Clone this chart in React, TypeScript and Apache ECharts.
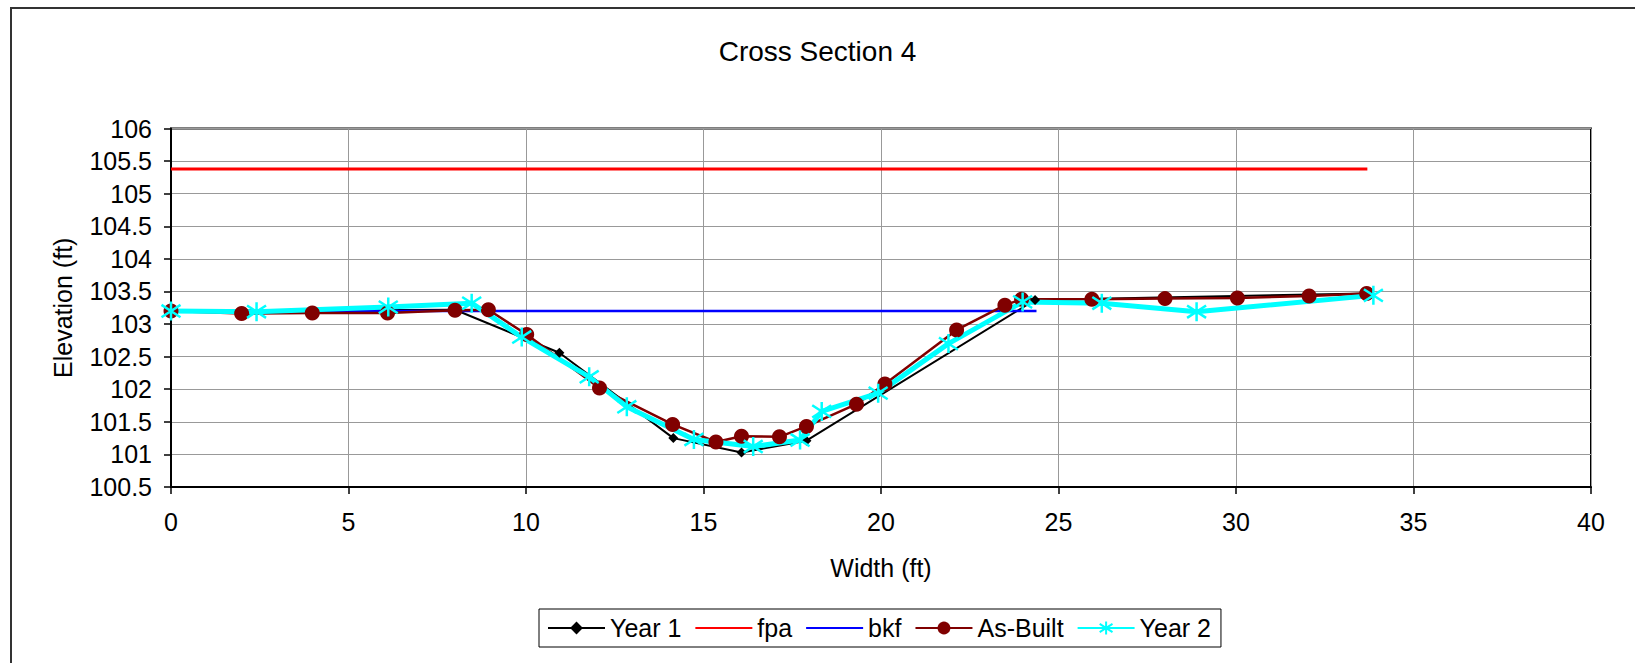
import React, { useEffect, useRef } from "react";
import * as echarts from "echarts";

// ---- Data ----
const xTickMin = 0;
const xTickMax = 40;
const xTickStep = 5;
const yTickMin = 100.5;
const yTickMax = 106;
const yTickStep = 0.5;

const seriesNames = ["Year 1", "fpa", "bkf", "As-Built", "Year 2"];
const lineOnlyNames = ["fpa", "bkf"];

const year1X = [0, 8.0, 10.94, 14.15, 16.07, 17.9, 24.34, 33.68];
const year1Y = [103.2, 103.22, 102.56, 101.25, 101.03, 101.21, 103.37, 103.47];

const fpaX = [0, 33.7];
const fpaY = [105.38, 105.38];

const bkfX = [0, 24.38];
const bkfY = [103.2, 103.2];

const asBuiltX = [0, 1.99, 3.98, 6.1, 8.0, 8.94, 10.02, 12.07, 14.13, 15.35, 16.07, 17.14, 17.9, 19.31, 20.11, 22.13, 23.49, 23.96, 25.94, 28.0, 30.04, 32.06, 33.68];
const asBuiltY = [103.2, 103.16, 103.17, 103.17, 103.21, 103.22, 102.84, 102.02, 101.46, 101.19, 101.28, 101.27, 101.43, 101.77, 102.08, 102.91, 103.29, 103.38, 103.38, 103.39, 103.4, 103.43, 103.47];

const year2X = [0, 2.41, 6.12, 8.47, 9.88, 11.78, 12.84, 14.73, 16.4, 17.72, 18.33, 19.92, 21.9, 23.99, 26.22, 28.89, 33.87];
const year2Y = [103.2, 103.19, 103.26, 103.32, 102.8, 102.19, 101.73, 101.23, 101.12, 101.22, 101.66, 101.94, 102.7, 103.34, 103.32, 103.19, 103.44];

const zip = (xs: number[], ys: number[]) => xs.map((x, i) => [x, ys[i]]);

const FONT = "'Liberation Sans', Arial, Helvetica, sans-serif";
const ASTERISK = "path://M10,0L10,20M2.5,3.5L17.5,16.5M2.5,16.5L17.5,3.5";

export default function App() {
  const ref = useRef<HTMLDivElement>(null);

  useEffect(() => {
    document.body.style.margin = "0";
    if (!ref.current) return;
    const chart = echarts.init(ref.current, undefined, { renderer: "svg" });

    const axisCommon = {
      type: "value" as const,
      nameLocation: "middle" as const,
      nameTextStyle: { fontSize: 25, color: "#000", fontFamily: FONT },
      axisLine: { show: true, onZero: false, lineStyle: { color: "#000", width: 2 } },
      axisTick: { show: true, inside: false, length: 7, lineStyle: { color: "#000", width: 1.5 } },
      axisLabel: { fontSize: 25, color: "#000", fontFamily: FONT },
      splitLine: { show: true, lineStyle: { color: "#999", width: 1 } },
    };

    const legendData = seriesNames.map((name) =>
      lineOnlyNames.includes(name) ? { name, itemStyle: { opacity: 0 } } : { name }
    );

    const option: any = {
      animation: false,
      backgroundColor: "#ffffff",
      textStyle: { fontFamily: FONT },
      title: {
        text: "Cross Section 4",
        left: "center",
        top: 37,
        padding: 0,
        textStyle: { fontSize: 28, fontWeight: "normal", color: "#000", fontFamily: FONT },
      },
      graphic: [
        {
          type: "rect",
          silent: true,
          z: -10,
          shape: { x: 11, y: 8, width: 1700, height: 700 },
          style: { fill: "none", stroke: "#333", lineWidth: 2 },
        },
      ],
      grid: {
        left: 171,
        top: 128.5,
        right: 44,
        bottom: 176,
        show: true,
        borderColor: "#000",
        borderWidth: 2,
        backgroundColor: "transparent",
        containLabel: false,
        outerBoundsMode: "none",
      },
      xAxis: {
        ...axisCommon,
        min: xTickMin,
        max: xTickMax,
        interval: xTickStep,
        name: "Width (ft)",
        nameGap: 68,
        axisLabel: { ...axisCommon.axisLabel, margin: 22 },
      },
      yAxis: {
        ...axisCommon,
        min: yTickMin,
        max: yTickMax,
        interval: yTickStep,
        name: "Elevation (ft)",
        nameGap: 96,
        nameRotate: 90,
        axisLabel: { ...axisCommon.axisLabel, margin: 19 },
      },
      legend: {
        data: legendData,
        left: 539,
        top: 609,
        orient: "horizontal",
        itemWidth: 57,
        itemHeight: 16,
        itemGap: 13,
        padding: [6, 10, 6, 8],
        borderColor: "#000",
        borderWidth: 1,
        backgroundColor: "#fff",
        textStyle: { fontSize: 25, color: "#000", fontFamily: FONT, lineHeight: 26 },
      },
      series: [
        {
          name: seriesNames[0],
          type: "line",
          data: zip(year1X, year1Y),
          symbol: "diamond",
          symbolSize: 10,
          lineStyle: { color: "#000000", width: 2 },
          itemStyle: { color: "#000000", borderWidth: 0 },
        },
        {
          name: seriesNames[1],
          type: "line",
          data: zip(fpaX, fpaY),
          symbol: "none",
          lineStyle: { color: "#ff0000", width: 3 },
          itemStyle: { color: "#ff0000" },
        },
        {
          name: seriesNames[2],
          type: "line",
          data: zip(bkfX, bkfY),
          symbol: "none",
          lineStyle: { color: "#0000ff", width: 2.5 },
          itemStyle: { color: "#0000ff" },
        },
        {
          name: seriesNames[3],
          type: "line",
          data: zip(asBuiltX, asBuiltY),
          symbol: "circle",
          symbolSize: 15,
          lineStyle: { color: "#800000", width: 2.5 },
          itemStyle: { color: "#800000", borderWidth: 0 },
        },
        {
          name: seriesNames[4],
          type: "line",
          data: zip(year2X, year2Y),
          symbol: ASTERISK,
          symbolSize: 19,
          lineStyle: { color: "#00ffff", width: 5 },
          itemStyle: { color: "#00ffff", borderColor: "#00ffff", borderWidth: 2.5 },
        },
      ],
    };

    chart.setOption(option);
    return () => chart.dispose();
  }, []);

  return <div ref={ref} style={{ width: 1635, height: 663 }} />;
}
